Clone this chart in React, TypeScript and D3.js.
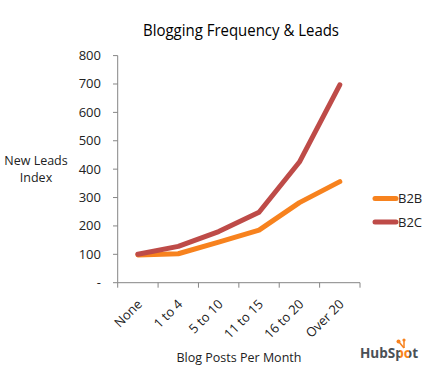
import React from "react";
import * as d3 from "d3";

const categories = ["None", "1 to 4", "5 to 10", "11 to 15", "16 to 20", "Over 20"];
const b2b = [98, 102, 143, 185, 282, 356];
const b2c = [100, 128, 180, 248, 425, 697];
const yTicks = [0, 100, 200, 300, 400, 500, 600, 700, 800];
const seriesNames = ["B2B", "B2C"];

const W = 443;
const H = 385;
const FONT = "'Open Sans', 'Noto Sans', sans-serif";
const colors = ["#F7821E", "#BE4B48"];

export default function App() {
  const x = d3.scaleBand().domain(categories).range([117.7, 360]);
  const y = d3.scaleLinear().domain([0, 800]).range([282.7, 55.6]);
  const line = d3
    .line<number>()
    .x((_, i) => (x(categories[i]) as number) + x.bandwidth() / 2)
    .y((d) => y(d));
  const series = [b2b, b2c];
  const axisColor = "#868686";
  const boundaries = [...categories.map((c) => x(c) as number), 360];

  return (
    <svg
      width={W}
      height={H}
      style={{ position: "absolute", left: 0, top: 0, background: "#fff" }}
      fontFamily={FONT}
    >
      <defs>
        <linearGradient id="hubspotFill" gradientUnits="userSpaceOnUse" x1={360} x2={418} y1={0} y2={0}>
          <stop offset="0" stopColor="#4a4f55" />
          <stop offset="0.69" stopColor="#4a4f55" />
          <stop offset="0.69" stopColor="#F7821E" />
          <stop offset="0.84" stopColor="#F7821E" />
          <stop offset="0.84" stopColor="#4a4f55" />
          <stop offset="1" stopColor="#4a4f55" />
        </linearGradient>
      </defs>
      <rect width={W} height={H} fill="#fff" />
      <text x={241} y={36} textAnchor="middle" fontSize={15.5} fill="#000" textLength={196} lengthAdjust="spacingAndGlyphs">
        Blogging Frequency  &amp; Leads
      </text>

      {/* y axis */}
      <line x1={117.7} x2={117.7} y1={y(800)} y2={y(0)} stroke={axisColor} />
      {yTicks.map((t) => (
        <g key={t}>
          <line x1={113} x2={117.7} y1={y(t)} y2={y(t)} stroke={axisColor} />
          <text x={101} y={y(t) + 4.5} textAnchor="end" fontSize={13} fill="#222">
            {t === 0 ? "-" : t}
          </text>
        </g>
      ))}
      <text x={36} y={165} textAnchor="middle" fontSize={12.5} fill="#222">New Leads</text>
      <text x={36} y={182} textAnchor="middle" fontSize={12.5} fill="#222">Index</text>

      {/* x axis */}
      <line x1={117.7} x2={360} y1={y(0)} y2={y(0)} stroke={axisColor} />
      {boundaries.map((b, i) => (
        <line key={i} x1={b} x2={b} y1={y(0)} y2={y(0) + 5} stroke={axisColor} />
      ))}
      {categories.map((c) => {
        const cx = (x(c) as number) + x.bandwidth() / 2 + 5;
        const cy = 305;
        return (
          <text
            key={c}
            x={cx}
            y={cy}
            textAnchor="end"
            fontSize={13}
            fill="#222"
            transform={`rotate(-45 ${cx} ${cy})`}
          >
            {c}
          </text>
        );
      })}
      <text x={239} y={362} textAnchor="middle" fontSize={12.5} fill="#222">Blog Posts Per Month</text>

      {/* lines */}
      {series.map((s, i) => (
        <path
          key={i}
          d={line(s) || ""}
          fill="none"
          stroke={colors[i]}
          strokeWidth={5}
          strokeLinecap="round"
          strokeLinejoin="round"
        />
      ))}

      {/* legend */}
      {seriesNames.map((n, i) => (
        <g key={n}>
          <line x1={375} x2={396} y1={198.5 + i * 23.5} y2={198.5 + i * 23.5} stroke={colors[i]} strokeWidth={5} strokeLinecap="round" />
          <text x={398} y={203 + i * 23.5} fontSize={13} fill="#222">{n}</text>
        </g>
      ))}

      {/* HubSpot logo */}
      <text
        x={360}
        y={357.5}
        fontFamily="'Open Sans', sans-serif"
        fontWeight="bold"
        fontSize={14}
        fill="url(#hubspotFill)"
        textLength={58}
        lengthAdjust="spacingAndGlyphs"
      >
        HubSpot
      </text>
      <line x1={404} x2={399} y1={348} y2={342} stroke="#F7821E" strokeWidth={1.5} />
      <circle cx={398.5} cy={341.5} r={2} fill="#F7821E" />
      <line x1={404} x2={404} y1={348} y2={341} stroke="#F7821E" strokeWidth={1.5} />
      <circle cx={404} cy={340} r={1.6} fill="#F7821E" />
    </svg>
  );
}
